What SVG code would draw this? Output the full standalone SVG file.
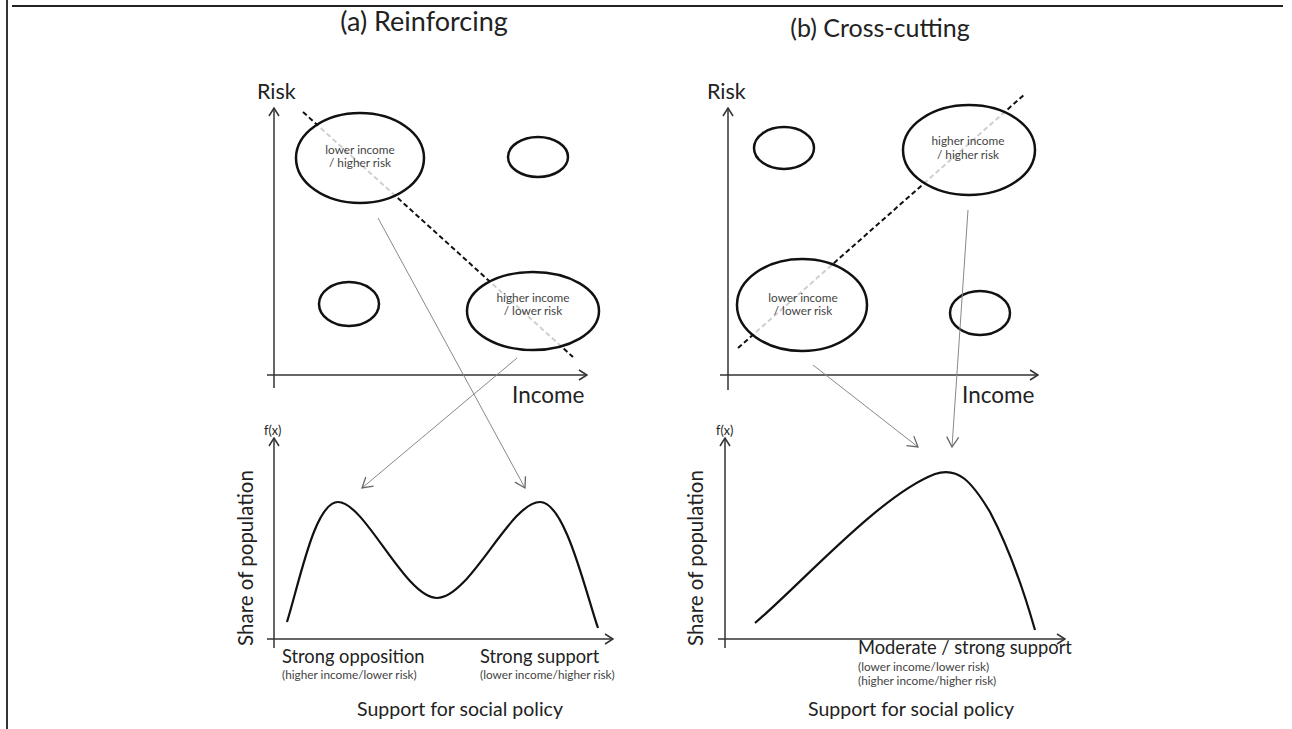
<svg xmlns="http://www.w3.org/2000/svg" width="1292" height="729" viewBox="0 0 1292 729">
<defs>
<style>
text{font-family:Lato,"Open Sans","Liberation Sans",sans-serif;fill:#222}
.title{font-size:25px}
.ta{font-size:27px}
.axl{font-size:21.5px}
.inc{font-size:22.5px}
.share{font-size:20.5px}
.lab{font-size:11.8px;fill:#444;text-anchor:middle}
.fx{font-size:12.5px}
.xl{font-size:18.3px}
.sup{font-size:19.5px}
.sm{font-size:11.8px;fill:#444}
.axis{stroke:#333;stroke-width:1.5;fill:none}
.ell{stroke:#111;stroke-width:2.5;fill:#fff;fill-opacity:0.8}
.dash{stroke:#111;stroke-width:2;stroke-dasharray:5 3;fill:none}
.curve{stroke:#111;stroke-width:2.2;fill:none}
.conn{stroke:#888;stroke-width:1;fill:none}
</style>
<marker id="ax" viewBox="0 0 10 12" refX="9" refY="6" markerWidth="10" markerHeight="12" markerUnits="userSpaceOnUse" orient="auto">
<path d="M1,1 L9,6 L1,11" fill="none" stroke="#333" stroke-width="1.5"/>
</marker>
<marker id="ca" viewBox="0 0 12 14" refX="11" refY="7" markerWidth="12" markerHeight="14" markerUnits="userSpaceOnUse" orient="auto">
<path d="M1,1 L11,7 L1,13" fill="none" stroke="#666" stroke-width="1.3"/>
</marker>
</defs>
<rect width="1292" height="729" fill="#fff"/>
<g id="frame">
<line x1="7" y1="0" x2="7" y2="729" stroke="#333" stroke-width="2"/>
<line x1="12" y1="6" x2="1283" y2="6" stroke="#222" stroke-width="2"/>
</g>
<g id="titles">
<text class="title ta" x="424" y="31" text-anchor="middle">(a) Reinforcing</text>
<text class="title" x="880" y="37" text-anchor="middle">(b) Cross-cutting</text>
</g>
<g id="panel-a-top">
<line class="axis" x1="274" y1="388" x2="274" y2="108" marker-end="url(#ax)"/>
<line class="axis" x1="267" y1="375" x2="587" y2="375" marker-end="url(#ax)"/>
<text class="axl" x="257" y="99">Risk</text>
<text class="inc" x="512" y="403">Income</text>
<line class="dash" x1="303" y1="112" x2="573" y2="357"/>
</g>
<g id="a-ellipse-lowinc-highrisk">
<ellipse class="ell" cx="360" cy="158" rx="64" ry="45"/>
<text class="lab" x="360" y="154">lower income</text>
<text class="lab" x="360" y="167">/ higher risk</text>
</g>
<g id="a-ellipse-small-tr"><ellipse class="ell" cx="538" cy="157" rx="30" ry="20"/></g>
<g id="a-ellipse-small-bl"><ellipse class="ell" cx="349" cy="304" rx="30" ry="22"/></g>
<g id="a-ellipse-highinc-lowrisk">
<ellipse class="ell" cx="533" cy="311" rx="66" ry="39"/>
<text class="lab" x="533" y="302">higher income</text>
<text class="lab" x="533" y="315">/ lower risk</text>
</g>
<g id="panel-a-bottom">
<line class="axis" x1="274" y1="648" x2="274" y2="438" marker-end="url(#ax)"/>
<line class="axis" x1="267" y1="639" x2="613" y2="639" marker-end="url(#ax)"/>
<text class="fx" x="264" y="435">f(x)</text>
<text class="share" transform="translate(253,558) rotate(-90)" text-anchor="middle">Share of population</text>
<path class="curve" d="M287,622 C300,580 315,502 338,502 C365,502 405,598 437,598 C470,598 510,502 540,502 C565,502 585,590 598,628"/>
<text class="xl" x="282" y="663">Strong opposition</text>
<text class="sm" x="282" y="679">(higher income/lower risk)</text>
<text class="xl" x="480" y="663">Strong support</text>
<text class="sm" x="480" y="679">(lower income/higher risk)</text>
<text class="sup" x="460" y="716" text-anchor="middle">Support for social policy</text>
</g>
<g id="panel-b-top">
<line class="axis" x1="728" y1="390" x2="728" y2="108" marker-end="url(#ax)"/>
<line class="axis" x1="720" y1="375" x2="1038" y2="375" marker-end="url(#ax)"/>
<text class="axl" x="707" y="99">Risk</text>
<text class="inc" x="962" y="403">Income</text>
<line class="dash" x1="738" y1="348" x2="1025" y2="94"/>
</g>
<g id="b-ellipse-small-tl"><ellipse class="ell" cx="784" cy="148" rx="30" ry="21"/></g>
<g id="b-ellipse-highinc-highrisk">
<ellipse class="ell" cx="969" cy="150" rx="66" ry="45"/>
<text class="lab" x="968" y="145">higher income</text>
<text class="lab" x="968" y="159">/ higher risk</text>
</g>
<g id="b-ellipse-lowinc-lowrisk">
<ellipse class="ell" cx="802" cy="305" rx="65" ry="46"/>
<text class="lab" x="803" y="302">lower income</text>
<text class="lab" x="803" y="315">/ lower risk</text>
</g>
<g id="b-ellipse-small-br"><ellipse class="ell" cx="980" cy="313" rx="30" ry="22"/></g>
<g id="panel-b-bottom">
<line class="axis" x1="725" y1="648" x2="725" y2="438" marker-end="url(#ax)"/>
<line class="axis" x1="718" y1="639" x2="1065" y2="639" marker-end="url(#ax)"/>
<text class="fx" x="716" y="435">f(x)</text>
<text class="share" transform="translate(703,558) rotate(-90)" text-anchor="middle">Share of population</text>
<path class="curve" d="M755,623 C800,585 880,495 935,474 C958,466 972,482 990,512 C1010,550 1025,595 1035,630"/>
<text class="xl" x="858" y="654">Moderate / strong support</text>
<text class="sm" x="858" y="671">(lower income/lower risk)</text>
<text class="sm" x="858" y="685">(higher income/higher risk)</text>
<text class="sup" x="911" y="716" text-anchor="middle">Support for social policy</text>
</g>
<g id="connectors">
<line class="conn" x1="378" y1="218" x2="525" y2="488" marker-end="url(#ca)"/>
<line class="conn" x1="517" y1="358" x2="362" y2="488" marker-end="url(#ca)"/>
<line class="conn" x1="968" y1="210" x2="952" y2="447" marker-end="url(#ca)"/>
<line class="conn" x1="813" y1="365" x2="918" y2="447" marker-end="url(#ca)"/>
</g>
</svg>
